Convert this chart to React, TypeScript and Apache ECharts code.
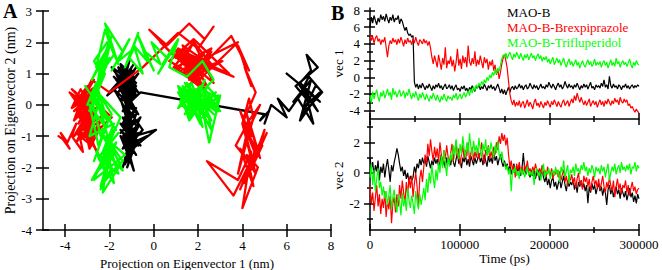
import React, { useEffect, useRef } from "react";
import * as echarts from "echarts";

const FONT = "Liberation Serif, Times New Roman, serif";

const SERIES_NAMES = ["MAO-B", "MAO-B-Brexpiprazole", "MAO-B-Trifluperidol"];
const SERIES_COLORS = ["#000000", "#ff0000", "#00ff00"];

// time axis, ps (one sample every 1500 ps, 0 .. 300000)
const TIME_STEP = 1500;
const TIME_COUNT = 201;

// vec 1 (projection on eigenvector 1, nm)
const BLACK_V1 = [
  6.0, 7.2, 6.5, 7.4, 6.8, 6.3, 7.1, 6.6, 7.5, 6.9,
  7.3, 6.7, 7.6, 7.0, 6.5, 7.2, 6.8, 7.5, 6.6, 7.1,
  6.9, 7.4, 6.4, 7.0, 6.7, 6.1, 5.6, 6.0, 5.3, 5.0,
  5.2, 4.8, 5.0, -0.6, -1.2, -0.8, -1.4, -0.9, -1.3, -0.7,
  -1.1, -1.5, -1.0, -1.3, -0.8, -1.2, -1.6, -1.0, -1.4, -0.9,
  -1.2, -0.7, -1.3, -1.0, -1.5, -1.1, -0.8, -1.4, -1.2, -0.9,
  -1.4, -1.0, -1.6, -1.2, -0.9, -1.5, -1.3, -1.7, -1.1, -1.4,
  -1.0, -1.6, -1.3, -1.8, -1.2, -1.5, -1.0, -1.4, -1.7, -1.1,
  -1.3, -0.9, -1.5, -1.1, -1.4, -0.8, -1.2, -1.6, -1.0, -1.3,
  -0.9, -1.4, -1.1, -1.6, -1.2, -0.8, -1.3, -1.9, -1.4, -2.0,
  -1.5, -2.1, -1.6, -1.2, -1.8, -1.3, -1.1, -1.5, -1.0, -1.4,
  -1.2, -0.8, -1.3, -1.0, -1.5, -1.1, -0.9, -1.4, -1.2, -0.7,
  -1.1, -1.4, -0.9, -1.3, -1.0, -1.5, -1.2, -0.8, -1.3, -1.1,
  -1.4, -0.9, -1.2, -0.6, -1.0, -1.3, -0.8, -1.1, -1.5, -1.0,
  -0.7, -1.2, -0.9, -1.4, -1.1, -0.5, -1.0, -1.3, -0.8, -1.2,
  -1.0, -1.4, -0.9, -1.2, -0.7, -1.1, -1.5, -1.0, -1.3, -0.8,
  -1.2, -0.9, -1.4, -1.0, -0.6, -1.3, -1.1, -1.5, -0.9, -1.2,
  -1.0, -1.3, -0.7, -1.1, -0.3, -1.2, -0.9, -1.4, 0.1, -1.0,
  -1.3, -0.8, -1.2, -1.0, -1.4, -0.9, -1.1, -1.5, -1.0, -1.2,
  -0.8, -1.3, -1.0, -1.4, -1.1, -0.9, -1.3, -1.0, -1.2, -0.9,
  -1.1,
];
const RED_V1 = [
  5.1, 4.4, 4.9, 4.1, 4.7, 5.0, 4.3, 4.6, 3.9, 4.5,
  4.2, 4.8, 3.6, 2.4, 3.8, 4.4, 4.0, 4.7, 4.2, 4.5,
  3.9, 4.6, 4.1, 4.8, 4.3, 3.7, 4.5, 4.0, 4.7, 4.2,
  4.4, 3.9, 4.6, 4.1, 4.8, 4.2, 3.8, 4.5, 4.3, 4.0,
  4.6, 4.1, 4.4, 3.8, 4.3, 3.5, 2.4, 1.6, 2.6, 1.9,
  1.2, 2.7, 1.8, 0.9, 2.3, 1.5, 3.6, 1.1, 2.0, 1.6,
  2.5, 1.3, 2.1, 0.7, 1.8, 3.4, 1.4, 2.2, 1.0, 2.6,
  1.7, 2.4, 1.2, 3.8, 1.9, 1.4, 2.3, 1.6, 3.1, 1.3,
  2.1, 1.5, 2.6, 1.8, 1.1, 2.4, 1.7, 2.2, 0.9, 1.9,
  1.4, 2.1, 0.8, 1.5, 0.3, 1.0, -0.2, 0.6, 1.6, 2.3,
  2.7, 2.0, 1.1, -0.5, -2.0, -2.8, -3.3, -2.7, -3.5, -3.0,
  -3.4, -2.8, -3.6, -3.1, -2.9, -3.7, -3.2, -2.7, -3.5, -3.0,
  -3.3, -3.8, -3.0, -2.6, -3.4, -3.1, -3.6, -2.9, -3.3, -3.7,
  -3.0, -3.4, -2.8, -3.2, -3.6, -2.9, -3.3, -2.7, -3.1, -3.5,
  -2.9, -3.3, -3.6, -3.0, -2.7, -3.4, -3.1, -2.8, -3.5, -3.0,
  -2.6, -3.1, -2.2, -2.8, -1.9, -2.5, -3.0, -2.4, -2.9, -3.3,
  -2.8, -3.4, -3.0, -2.6, -3.5, -3.1, -2.8, -3.3, -2.9, -3.6,
  -3.1, -2.7, -3.3, -2.9, -3.5, -2.8, -3.2, -2.6, -3.0, -3.4,
  -2.8, -3.2, -2.5, -3.0, -2.7, -3.3, -2.4, -2.9, -3.1, -2.6,
  -3.0, -2.7, -3.4, -3.2, -3.7, -3.5, -3.9, -4.2, -3.8, -4.1,
  -4.3,
];
const GREEN_V1 = [
  -2.2, -3.1, -1.7, -2.6, -2.0, -1.5, -2.4, -2.9, -1.8, -2.3,
  -1.6, -2.5, -2.0, -1.4, -2.2, -1.8, -2.7, -1.3, -2.1, -1.7,
  -2.4, -1.9, -1.5, -2.3, -2.0, -1.6, -2.5, -1.8, -2.2, -1.4,
  -2.1, -2.6, -1.9, -2.4, -1.7, -2.3, -2.8, -2.0, -2.5, -1.8,
  -2.3, -2.7, -2.0, -2.5, -2.9, -2.2, -2.6, -1.9, -2.4, -2.8,
  -2.1, -2.6, -3.0, -2.3, -2.7, -2.0, -2.5, -2.9, -2.2, -2.6,
  -2.4, -2.8, -2.1, -2.5, -1.9, -2.7, -2.3, -2.0, -2.6, -2.2,
  -1.8, -2.4, -2.0, -1.6, -2.2, -1.4, -1.9, -1.1, -1.6, -0.9,
  -1.3, -0.7, -1.1, -0.5, -0.9, -0.3, -0.7, 0.0, -0.4, 0.3,
  -0.1, 0.6, 0.2, 0.9, 0.4, 1.1, 0.7, 1.5, 2.2, 2.7,
  2.4, 2.9, 2.2, 2.7, 3.0, 2.5, 2.1, 2.8, 2.4, 3.0,
  2.6, 2.2, 2.9, 2.4, 2.0, 2.7, 2.3, 2.8, 2.1, 2.5,
  2.9, 2.3, 2.6, 2.0, 2.5, 2.8, 2.2, 2.6, 1.9, 2.4,
  2.1, 2.5, 1.8, 2.2, 1.6, 2.0, 2.4, 1.5, 1.9, 2.3,
  1.7, 2.1, 1.4, 1.9, 2.3, 1.6, 1.2, 1.8, 2.2, 1.5,
  1.9, 1.3, 1.7, 2.1, 1.4, 1.8, 1.1, 1.6, 2.0, 1.5,
  1.2, 1.7, 2.1, 1.5, 1.9, 1.3, 1.6, 2.2, 1.4, 1.8,
  1.5, 1.9, 1.2, 1.7, 2.0, 1.4, 1.8, 1.1, 1.6, 2.1,
  1.4, 1.8, 1.3, 2.3, 1.6, 1.9, 1.2, 1.7, 2.0, 1.5,
  1.8, 1.3, 1.7, 2.2, 1.5, 1.1, 1.8, 1.4, 2.0, 1.6,
  1.5,
];

// vec 2 (projection on eigenvector 2, nm)
const BLACK_V2 = [
  1.0, 0.3, 0.7, -0.2, 0.5, 0.1, 0.8, -0.5, 0.4, 0.0,
  0.6, -0.3, 0.4, 0.9, 0.2, -0.6, 0.5, 0.1, 0.7, 1.1,
  1.6, 1.2, 0.6, 0.1, 0.4, -0.2, 0.2, -0.4, 0.0, -0.6,
  -0.2, -0.5, -0.3, 0.4, 0.0, 0.6, 0.3, 0.9, 0.5, 1.0,
  0.6, 0.9, 0.4, 1.1, 0.7, 0.3, 0.8, 0.5, 1.0, 0.6,
  0.9, 0.4, 0.7, 1.2, 0.5, 0.8, 0.3, 1.0, 0.6, 0.9,
  0.5, 1.1, 0.7, 0.4, 0.9, 1.3, 0.6, 0.8, 0.3, 1.0,
  0.7, 1.2, 0.5, 0.9, 0.4, 1.1, 0.8, 0.5, 1.0, 0.6,
  0.9, 1.3, 0.7, 1.0, 0.5, 1.2, 0.8, 0.4, 1.1, 0.7,
  1.0, 0.6, 1.4, 0.8, 1.1, 0.5, 0.9, 1.2, 0.7, 0.4,
  0.8, 0.3, 0.6, 0.1, 0.5, -0.1, 0.3, 0.6, 0.0, 0.4,
  0.1, 0.5, -0.2, 0.3, 1.3, 0.2, -0.1, 0.4, 0.0, -0.3,
  0.2, -0.2, 0.3, -0.4, 0.0, 0.2, -0.5, -0.1, 0.1, -0.3,
  -0.6, -0.2, -0.8, -0.4, -1.0, -0.5, -0.3, -0.9, -0.6, -1.1,
  -0.7, -0.4, -1.0, -0.6, -0.2, -0.8, -1.2, -0.5, -0.9, -0.6,
  -0.8, -0.4, -1.1, -0.7, -1.3, -0.6, -0.9, -0.5, -1.0, -0.7,
  -1.2, -0.8, -2.0, -0.9, -1.3, -0.7, -1.1, -0.8, -1.4, -1.0,
  -0.7, -1.2, -0.9, -1.5, -1.0, -1.3, -2.1, -1.1, -0.8, -1.4,
  -1.0, -1.6, -1.2, -0.9, -1.4, -1.1, -1.7, -1.0, -1.3, -1.6,
  -1.2, -1.8, -1.4, -1.0, -1.6, -1.3, -1.9, -1.5, -2.0, -1.4,
  -1.7,
];
const RED_V2 = [
  -0.9, -2.0, -1.3, -2.5, -1.6, -0.8, -2.2, -1.4, -2.7, -1.7,
  -2.3, -1.2, -2.9, -1.8, -2.4, -1.5, -3.3, -2.0, -1.6, -2.6,
  -1.4, -2.2, -0.8, -1.7, -0.5, -1.3, -2.0, -0.6, -1.5, -0.3,
  -1.0, -0.2, -1.6, -0.7, 0.0, -0.9, -2.2, -0.4, 0.2, -0.6,
  0.4, 1.2, 0.6, 1.9, 1.1, 2.2, 1.4, 0.8, 1.7, 1.0,
  1.6, 0.7, 2.0, 1.2, 0.5, 1.5, 0.9, 1.8, 1.1, 0.6,
  1.3, 1.9, 0.8, 1.4, 2.1, 1.0, 1.6, 0.5, 1.2, 1.8,
  0.9, 1.5, 1.1, 2.0, 0.7, 1.3, 1.7, 0.8, 1.4, 1.0,
  1.6, 0.9, 1.3, 2.0, 1.1, 0.6, 1.5, 1.2, 1.8, 0.9,
  1.4, 1.0, 1.7, 1.2, 2.0, 1.5, 2.4, 1.9, 2.6, 2.1,
  2.5, 1.8, 2.3, 1.2, 0.4, 0.8, 0.1, 0.5, -0.3, 0.6,
  0.2, 0.7, 0.0, 0.4, -0.1, 0.5, 0.2, 0.8, 0.1, 0.3,
  -0.1, 0.4, 0.0, 0.6, 0.2, -0.2, 0.3, 0.0, 0.5, -0.1,
  0.2, -0.3, 0.4, 0.0, -0.2, 0.3, -0.4, 0.1, -0.1, 0.2,
  -0.3, 0.1, -0.5, -0.1, 0.2, -0.6, -0.2, -0.8, -0.3, -0.5,
  -0.1, -0.7, -0.3, -1.0, -0.4, 0.0, -0.8, -0.5, -1.1, -0.2,
  -0.6, -0.3, -0.9, -0.4, -1.2, -0.6, -0.2, -0.8, -0.5, -1.0,
  -0.4, -1.1, -0.7, -0.2, -0.9, -1.3, -0.6, -1.0, -0.3, -0.8,
  -1.2, -0.5, -1.6, -0.9, -0.4, -1.1, -0.7, -1.4, -0.8, -1.0,
  -0.5, -1.3, -0.8, -1.5, -1.0, -0.6, -1.2, -0.9, -1.4, -1.1,
  -1.0,
];
const GREEN_V2 = [
  -0.3, 0.6, -0.8, 0.2, -1.2, -0.4, 0.3, -1.0, -0.6, -1.5,
  -0.9, -1.7, -1.2, -2.1, -1.5, -0.8, -2.4, -1.6, -1.1, -2.0,
  -2.6, -1.4, -1.9, -2.8, -1.3, -2.2, -1.7, -2.5, -1.0, -1.8,
  -2.3, -1.5, -2.0, -2.7, -1.2, -1.9, -2.4, -1.4, -2.1, -1.6,
  -1.0, -1.8, -0.4, -1.3, 0.0, -0.7, 0.5, -0.3, -1.0, 0.2,
  -0.5, 0.7, 0.0, 1.1, 0.3, 1.5, 0.6, -0.2, 1.0, 0.4,
  1.3, 0.8, 1.8, 1.1, 2.2, 1.4, 0.9, 1.9, 1.2, 2.4,
  1.6, 1.0, 2.0, 1.3, 2.6, 1.7, 1.1, 2.1, 1.4, 1.8,
  1.2, 2.3, 1.5, 1.0, 1.9, 1.4, 2.2, 1.1, 1.7, 1.3,
  2.0, 1.5, 1.0, 1.8, 1.3, 2.1, 1.2, 0.9, 1.4, 0.8,
  0.6, 0.2, 0.5, -0.1, 0.3, -1.2, 0.2, 0.0, 0.4, -0.2,
  0.1, -0.4, 0.3, -0.1, 0.2, -0.3, 0.0, 0.4, -0.2, 0.1,
  -0.2, 0.2, -0.8, 0.0, 0.3, -0.2, 0.1, -0.5, 0.0, 0.6,
  -0.3, 0.1, -0.1, 0.3, -0.4, 0.0, 0.2, -0.2, 0.4, -0.1,
  0.2, -0.6, 0.4, 0.0, 0.8, -0.3, 0.1, 0.5, -0.7, 0.2,
  0.0, 0.4, -0.2, 0.6, 0.1, 0.3, -0.1, 0.5, 0.2, 0.7,
  0.1, 0.4, -0.2, 0.3, 0.0, 0.5, 0.2, -0.3, 0.4, 0.1,
  0.3, -0.1, 0.5, 0.1, 0.4, -0.3, 0.2, 0.6, -0.5, 0.0,
  0.4, 0.1, 0.6, -0.1, 0.3, 0.5, 0.0, 0.7, 0.2, 0.4,
  0.1, 0.5, 0.2, 0.6, -0.1, 0.4, 0.3, 0.7, 0.1, 0.5,
  0.3,
];

// tick values
const A_X_TICKS = [-4, -2, 0, 2, 4, 6, 8];
const B1_Y_TICKS = [-4, -2, 0, 2, 4, 6, 8];
const B1_Y_MINOR = [-3, -1, 1, 3, 5, 7];
const B2_Y_TICKS = [-2, 0, 2];
const B2_Y_MINOR = [-3, -1, 1, 3];

const V1 = [BLACK_V1, RED_V1, GREEN_V1];
const V2 = [BLACK_V2, RED_V2, GREEN_V2];

const TIME = Array.from({ length: TIME_COUNT }, (_, i) => i * TIME_STEP);

const labelStyle = { fontFamily: FONT, fontSize: 13, color: "#000" };
const lineStyle = { color: "#000", width: 1.5 };

function mainAxis(o: any) {
  return {
    type: "value",
    axisLine: { show: true, onZero: false, lineStyle },
    splitLine: { show: false },
    nameLocation: "middle",
    nameTextStyle: { fontFamily: FONT, fontSize: 13, color: "#000" },
    ...o,
  };
}
function innerAxis(o: any) {
  return {
    type: "value",
    axisLine: { show: false, onZero: false },
    splitLine: { show: false },
    axisLabel: { show: false },
    ...o,
  };
}

export default function App() {
  const ref = useRef<HTMLDivElement>(null);
  useEffect(() => {
    if (!ref.current) return;
    const chart = echarts.init(ref.current, undefined, { renderer: "svg" });
    const plain = (v: number) => String(v);

    const xAxis: any[] = [
      mainAxis({
        gridIndex: 0, position: "bottom", min: -5, max: 8,
        axisTick: { show: true, length: 7, lineStyle, customValues: A_X_TICKS },
        axisLabel: { ...labelStyle, margin: 9, customValues: A_X_TICKS, formatter: plain },
        name: "Projection on Eigenvector 1 (nm)", nameGap: 21,
      }),
      innerAxis({
        gridIndex: 0, position: "bottom", min: -5, max: 8,
        axisTick: { show: true, inside: true, length: 6, lineStyle, customValues: A_X_TICKS },
      }),
      mainAxis({
        gridIndex: 1, position: "bottom", min: 0, max: 300000, interval: 100000,
        axisTick: { show: true, length: 6, lineStyle },
        minorTick: { show: true, splitNumber: 2, length: 3, lineStyle },
        axisLabel: { show: false },
      }),
      innerAxis({
        gridIndex: 1, position: "bottom", min: 0, max: 300000, interval: 100000,
        axisTick: { show: true, inside: true, length: 6, lineStyle },
        minorTick: { show: true, splitNumber: 2, length: 3, lineStyle },
      }),
      mainAxis({
        gridIndex: 2, position: "bottom", min: 0, max: 300000, interval: 100000,
        axisTick: { show: true, length: 6, lineStyle },
        minorTick: { show: true, splitNumber: 2, length: 3, lineStyle },
        axisLabel: { ...labelStyle, margin: 8, formatter: plain },
        name: "Time (ps)", nameGap: 21,
      }),
      innerAxis({
        gridIndex: 2, position: "bottom", min: 0, max: 300000, interval: 100000,
        axisTick: { show: true, inside: true, length: 6, lineStyle },
        minorTick: { show: true, splitNumber: 2, length: 3, lineStyle },
      }),
    ];

    const yAxis: any[] = [
      mainAxis({
        gridIndex: 0, position: "left", min: -4, max: 3, interval: 1,
        axisTick: { show: true, length: 7, lineStyle },
        axisLabel: { ...labelStyle, margin: 11, formatter: plain },
        name: "Projection on Eigenvector 2 (nm)", nameGap: 22,
        nameTextStyle: { fontFamily: FONT, fontSize: 14, color: "#000" },
      }),
      innerAxis({
        gridIndex: 0, position: "left", min: -4, max: 3, interval: 1,
        axisTick: { show: true, inside: true, length: 6, lineStyle },
      }),
      mainAxis({
        gridIndex: 1, position: "left", min: -5, max: 8.3,
        axisTick: { show: true, length: 6, lineStyle, customValues: B1_Y_TICKS },
        axisLabel: { ...labelStyle, margin: 10, customValues: B1_Y_TICKS, formatter: plain },
        name: "vec 1", nameGap: 20,
      }),
      innerAxis({
        gridIndex: 1, position: "left", min: -5, max: 8.3,
        axisTick: { show: true, inside: true, length: 5, lineStyle, customValues: B1_Y_TICKS },
      }),
      innerAxis({
        gridIndex: 1, position: "left", min: -5, max: 8.3,
        axisTick: { show: true, length: 3, lineStyle, customValues: B1_Y_MINOR },
      }),
      innerAxis({
        gridIndex: 1, position: "left", min: -5, max: 8.3,
        axisTick: { show: true, inside: true, length: 3, lineStyle, customValues: B1_Y_MINOR },
      }),
      mainAxis({
        gridIndex: 2, position: "left", min: -3.75, max: 3.4,
        axisTick: { show: true, length: 6, lineStyle, customValues: B2_Y_TICKS },
        axisLabel: { ...labelStyle, margin: 10, customValues: B2_Y_TICKS, formatter: plain },
        name: "vec 2", nameGap: 20,
      }),
      innerAxis({
        gridIndex: 2, position: "left", min: -3.75, max: 3.4,
        axisTick: { show: true, inside: true, length: 5, lineStyle, customValues: B2_Y_TICKS },
      }),
      innerAxis({
        gridIndex: 2, position: "left", min: -3.75, max: 3.4,
        axisTick: { show: true, length: 3, lineStyle, customValues: B2_Y_MINOR },
      }),
      innerAxis({
        gridIndex: 2, position: "left", min: -3.75, max: 3.4,
        axisTick: { show: true, inside: true, length: 3, lineStyle, customValues: B2_Y_MINOR },
      }),
    ];

    const series: any[] = [];
    SERIES_NAMES.forEach((name, k) => {
      series.push({
        name, type: "line", xAxisIndex: 0, yAxisIndex: 0, showSymbol: false, symbol: "none",
        data: V1[k].map((v, i) => [v, V2[k][i]]),
        lineStyle: { color: SERIES_COLORS[k], width: 2.3, join: "round", cap: "round" }, itemStyle: { color: SERIES_COLORS[k] },
      });
    });
    SERIES_NAMES.forEach((name, k) => {
      series.push({
        name, type: "line", xAxisIndex: 2, yAxisIndex: 2, showSymbol: false, symbol: "none",
        data: TIME.map((t, i) => [t, V1[k][i]]),
        lineStyle: { color: SERIES_COLORS[k], width: 1.2 }, itemStyle: { color: SERIES_COLORS[k] },
      });
    });
    SERIES_NAMES.forEach((name, k) => {
      series.push({
        name, type: "line", xAxisIndex: 4, yAxisIndex: 6, showSymbol: false, symbol: "none",
        data: TIME.map((t, i) => [t, V2[k][i]]),
        lineStyle: { color: SERIES_COLORS[k], width: 1.2 }, itemStyle: { color: SERIES_COLORS[k] },
      });
    });

    chart.setOption({
      animation: false,
      backgroundColor: "#fff",
      textStyle: { fontFamily: FONT },
      grid: [
        { left: 43, top: 11, width: 288, height: 219, containLabel: false, outerBoundsMode: "none" },
        { left: 370, top: 8, width: 269, height: 111, containLabel: false, outerBoundsMode: "none" },
        { left: 370, top: 121, width: 269, height: 109, containLabel: false, outerBoundsMode: "none" },
      ],
      legend: {
        orient: "vertical", left: 502, top: 6, padding: 0, itemGap: 2,
        itemWidth: 0, itemHeight: 0, icon: "rect", selectedMode: false,
        textStyle: { fontFamily: FONT, fontSize: 13 },
        data: SERIES_NAMES.map((n, k) => ({ name: n, textStyle: { color: SERIES_COLORS[k], fontFamily: FONT, fontSize: 13 } })),
      },
      graphic: [
        { type: "text", left: 3, top: 1, style: { text: "A", fontFamily: FONT, fontSize: 20, fontWeight: "bold", fill: "#000" } },
        { type: "text", left: 331, top: 3, style: { text: "B", fontFamily: FONT, fontSize: 20, fontWeight: "bold", fill: "#000" } },
      ],
      xAxis,
      yAxis,
      series,
    });
    return () => chart.dispose();
  }, []);
  return <div ref={ref} style={{ position: "fixed", left: 0, top: 0, width: 662, height: 270 }} />;
}
